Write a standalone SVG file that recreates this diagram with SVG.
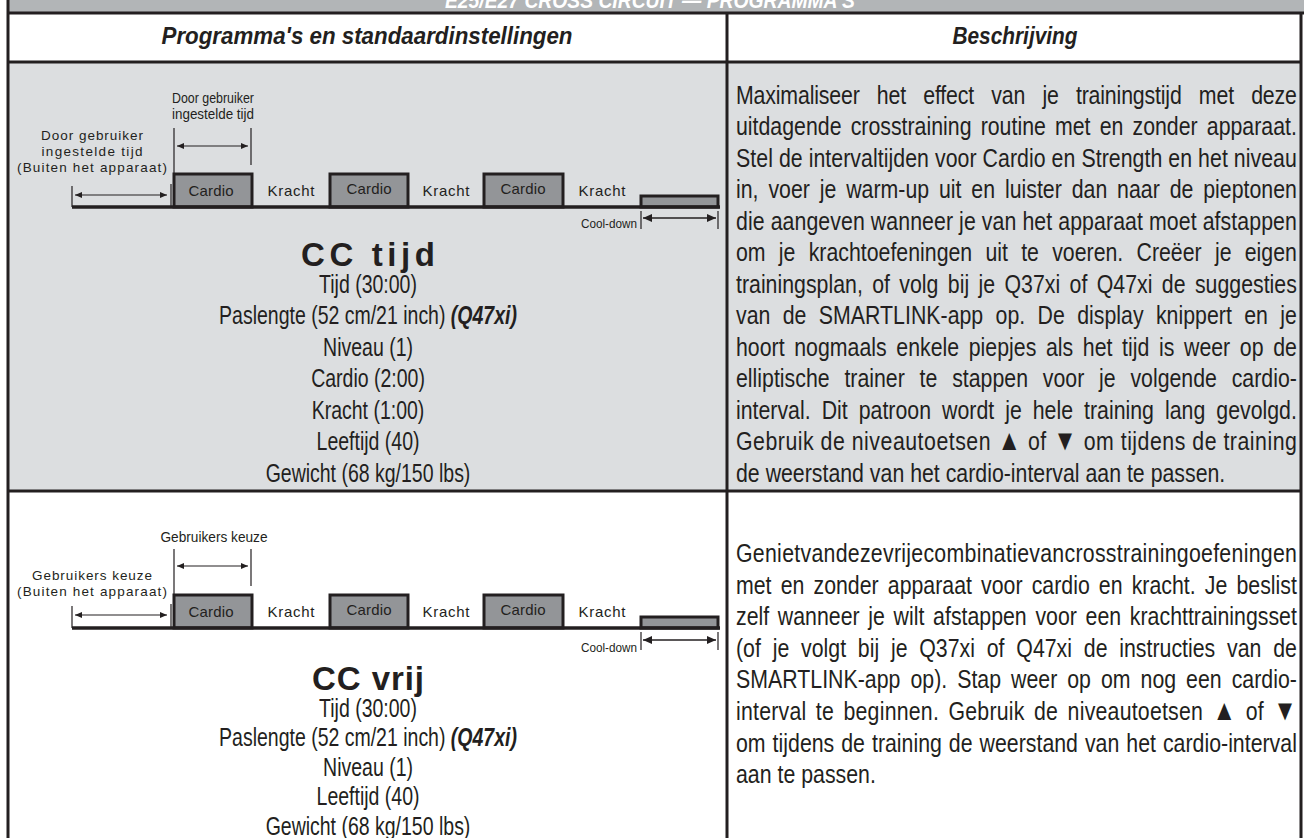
<svg xmlns="http://www.w3.org/2000/svg" width="1304" height="838" viewBox="0 0 1304 838">
<style>
.t{font-family:"Liberation Sans",Arial,sans-serif;fill:#231f20}
.desc{font-size:26px}
.tri{font-size:29px}
.left{font-size:25px;text-anchor:middle}
.lbl{font-size:14px}
.ls{font-size:13.5px}
.mid{text-anchor:middle}
.seg{font-size:15px;text-anchor:middle}
.hdr{font-size:24px;font-weight:bold;font-style:italic;text-anchor:middle}
.big{font-family:"Liberation Sans",Arial,sans-serif;font-weight:bold;font-size:33px;text-anchor:middle;fill:#231f20}
.bi{font-weight:bold;font-style:italic}
.box{fill:#939598;stroke:#231f20;stroke-width:3}
.rule{stroke:#231f20;stroke-width:3;fill:none}
.base{stroke:#231f20;stroke-width:3.5;fill:none}
.thin{stroke:#231f20;stroke-width:1.2;fill:none}
.arr{stroke:#231f20;stroke-width:1.2;marker-start:url(#ah);marker-end:url(#ah)}
.arr2{stroke:#231f20;stroke-width:1.4;marker-start:url(#ah2);marker-end:url(#ah2)}
</style>
<defs>
<marker id="ah" viewBox="0 0 7 6" refX="7" refY="3" markerWidth="7" markerHeight="6" markerUnits="userSpaceOnUse" orient="auto-start-reverse"><path d="M0,0L7,3L0,6z" fill="#231f20"/></marker>
<marker id="ah2" viewBox="0 0 9 8" refX="9" refY="4" markerWidth="9" markerHeight="8" markerUnits="userSpaceOnUse" orient="auto-start-reverse"><path d="M0,0L9,4L0,8z" fill="#231f20"/></marker>
</defs>
<rect width="1304" height="838" fill="#ffffff"/>
<g id="table">
<rect x="8" y="0" width="1296" height="13" fill="#b2b5b7"/>
<text x="650" y="8" font-family="Liberation Sans, Arial, sans-serif" font-size="22" font-weight="bold" font-style="italic" text-anchor="middle" fill="#ffffff" textLength="410" lengthAdjust="spacingAndGlyphs">E25/E27 CROSS CIRCUIT — PROGRAMMA'S</text>
<rect x="8" y="62" width="1293" height="429" fill="#dcdee0"/>
<line class="rule" x1="8" y1="13" x2="1304" y2="13"/>
<line class="rule" x1="8" y1="62" x2="1301" y2="62"/>
<line class="rule" x1="8" y1="491" x2="1301" y2="491"/>
<line class="rule" x1="8" y1="0" x2="8" y2="838"/>
<line class="rule" x1="727" y1="13" x2="727" y2="838"/>
<line class="rule" x1="1301" y1="13" x2="1301" y2="838"/>
<text class="t hdr" x="367" y="44" textLength="411" lengthAdjust="spacingAndGlyphs">Programma's en standaardinstellingen</text>
<text class="t hdr" x="1015" y="44" textLength="125" lengthAdjust="spacingAndGlyphs">Beschrijving</text>
</g>
<g id="cc-tijd-diagram">
<text class="t lbl mid" x="213" y="103" textLength="82" lengthAdjust="spacingAndGlyphs">Door gebruiker</text>
<text class="t lbl mid" x="213" y="119" textLength="82" lengthAdjust="spacingAndGlyphs">ingestelde tijd</text>
<text class="t ls mid" x="92" y="140" textLength="102" lengthAdjust="spacing">Door gebruiker</text>
<text class="t ls mid" x="92" y="156" textLength="101" lengthAdjust="spacing">ingestelde tijd</text>
<text class="t ls mid" x="92" y="172" textLength="150" lengthAdjust="spacing">(Buiten het apparaat)</text>
<rect class="box" x="174" y="174" width="78" height="33"/>
<rect class="box" x="330" y="174" width="78" height="33"/>
<rect class="box" x="484" y="174" width="79" height="33"/>
<rect class="box" x="641" y="196" width="77" height="11"/>
<line class="base" x1="72" y1="207" x2="720" y2="207"/>
<text class="t seg" x="211" y="196" textLength="45" lengthAdjust="spacing">Cardio</text>
<text class="t seg" x="369" y="194" textLength="45" lengthAdjust="spacing">Cardio</text>
<text class="t seg" x="523" y="194" textLength="45" lengthAdjust="spacing">Cardio</text>
<text class="t seg" x="291" y="196" textLength="47" lengthAdjust="spacing">Kracht</text>
<text class="t seg" x="446" y="196" textLength="47" lengthAdjust="spacing">Kracht</text>
<text class="t seg" x="602" y="196" textLength="47" lengthAdjust="spacing">Kracht</text>
<text class="t" x="637" y="228" font-size="13" text-anchor="end" textLength="56" lengthAdjust="spacingAndGlyphs">Cool-down</text>
</g>
<g id="cc-tijd-settings">
<text class="big" x="368" y="266" textLength="134" lengthAdjust="spacing">CC tijd</text>
<g transform="translate(368 0) scale(0.78 1)">
<text class="t left" x="0" y="293">Tijd (30:00)</text>
<text class="t left" x="0" y="324.5">Paslengte (52 cm/21 inch) <tspan class="bi">(Q47xi)</tspan></text>
<text class="t left" x="0" y="356">Niveau (1)</text>
<text class="t left" x="0" y="387.5">Cardio (2:00)</text>
<text class="t left" x="0" y="419">Kracht (1:00)</text>
<text class="t left" x="0" y="450.5">Leeftijd (40)</text>
<text class="t left" x="0" y="482">Gewicht (68 kg/150 lbs)</text>
</g>
</g>
<g id="cc-tijd-description" transform="translate(736 0) scale(0.82 1)">
<text class="t desc" x="0" y="104" word-spacing="14" textLength="684" lengthAdjust="spacing">Maximaliseer het effect van je trainingstijd met deze</text>
<text class="t desc" x="0" y="135.5" word-spacing="3.9" textLength="684" lengthAdjust="spacing">uitdagende crosstraining routine met en zonder apparaat.</text>
<text class="t desc" x="0" y="167" textLength="684" lengthAdjust="spacing">Stel de intervaltijden voor Cardio en Strength en het niveau</text>
<text class="t desc" x="0" y="198.5" word-spacing="4.8" textLength="684" lengthAdjust="spacing">in, voer je warm-up uit en luister dan naar de pieptonen</text>
<text class="t desc" x="0" y="230" textLength="684" lengthAdjust="spacing">die aangeven wanneer je van het apparaat moet afstappen</text>
<text class="t desc" x="0" y="261.5" word-spacing="8.9" textLength="684" lengthAdjust="spacing">om je krachtoefeningen uit te voeren. Creëer je eigen</text>
<text class="t desc" x="0" y="293" word-spacing="4.2" textLength="684" lengthAdjust="spacing">trainingsplan, of volg bij je Q37xi of Q47xi de suggesties</text>
<text class="t desc" x="0" y="324.5" word-spacing="7.8" textLength="684" lengthAdjust="spacing">van de SMARTLINK-app op. De display knippert en je</text>
<text class="t desc" x="0" y="356" word-spacing="4.5" textLength="684" lengthAdjust="spacing">hoort nogmaals enkele piepjes als het tijd is weer op de</text>
<text class="t desc" x="0" y="387.5" word-spacing="10.8" textLength="684" lengthAdjust="spacing">elliptische trainer te stappen voor je volgende cardio-</text>
<text class="t desc" x="0" y="419" word-spacing="6.2" textLength="684" lengthAdjust="spacing">interval. Dit patroon wordt je hele training lang gevolgd.</text>
<text class="t desc" x="0" y="450.5" textLength="684" lengthAdjust="spacing">Gebruik de niveautoetsen <tspan class="tri">▲</tspan> of <tspan class="tri">▼</tspan> om tijdens de training</text>
<text class="t desc" x="0" y="482">de weerstand van het cardio-interval aan te passen.</text>
</g>
<g id="cc-vrij-diagram">
<text class="t lbl mid" x="214" y="542" textLength="107" lengthAdjust="spacingAndGlyphs">Gebruikers keuze</text>
<text class="t ls mid" x="92" y="580" textLength="120" lengthAdjust="spacing">Gebruikers keuze</text>
<text class="t ls mid" x="92" y="596" textLength="150" lengthAdjust="spacing">(Buiten het apparaat)</text>
<rect class="box" x="174" y="595" width="78" height="33"/>
<rect class="box" x="330" y="595" width="78" height="33"/>
<rect class="box" x="484" y="595" width="79" height="33"/>
<rect class="box" x="641" y="617" width="77" height="11"/>
<line class="base" x1="72" y1="628" x2="720" y2="628"/>
<text class="t seg" x="211" y="617" textLength="45" lengthAdjust="spacing">Cardio</text>
<text class="t seg" x="369" y="615" textLength="45" lengthAdjust="spacing">Cardio</text>
<text class="t seg" x="523" y="615" textLength="45" lengthAdjust="spacing">Cardio</text>
<text class="t seg" x="291" y="617" textLength="47" lengthAdjust="spacing">Kracht</text>
<text class="t seg" x="446" y="617" textLength="47" lengthAdjust="spacing">Kracht</text>
<text class="t seg" x="602" y="617" textLength="47" lengthAdjust="spacing">Kracht</text>
<text class="t" x="637" y="652" font-size="13" text-anchor="end" textLength="56" lengthAdjust="spacingAndGlyphs">Cool-down</text>
</g>
<g id="cc-vrij-settings">
<text class="big" x="368" y="690" textLength="112" lengthAdjust="spacing">CC vrij</text>
<g transform="translate(368 0) scale(0.78 1)">
<text class="t left" x="0" y="717">Tijd (30:00)</text>
<text class="t left" x="0" y="746.5">Paslengte (52 cm/21 inch) <tspan class="bi">(Q47xi)</tspan></text>
<text class="t left" x="0" y="776">Niveau (1)</text>
<text class="t left" x="0" y="805.5">Leeftijd (40)</text>
<text class="t left" x="0" y="835">Gewicht (68 kg/150 lbs)</text>
</g>
</g>
<g id="cc-vrij-description" transform="translate(736 0) scale(0.82 1)">
<text class="t desc" x="0" y="562" textLength="684" lengthAdjust="spacing">Genietvandezevrijecombinatievancrosstrainingoefeningen</text>
<text class="t desc" x="0" y="593.6" word-spacing="3.9" textLength="684" lengthAdjust="spacing">met en zonder apparaat voor cardio en kracht. Je beslist</text>
<text class="t desc" x="0" y="625.2" word-spacing="3.4" textLength="684" lengthAdjust="spacing">zelf wanneer je wilt afstappen voor een krachttrainingsset</text>
<text class="t desc" x="0" y="656.8" word-spacing="7.1" textLength="684" lengthAdjust="spacing">(of je volgt bij je Q37xi of Q47xi de instructies van de</text>
<text class="t desc" x="0" y="688.4" word-spacing="4.9" textLength="684" lengthAdjust="spacing">SMARTLINK-app op). Stap weer op om nog een cardio-</text>
<text class="t desc" x="0" y="720" word-spacing="4" textLength="684" lengthAdjust="spacing">interval te beginnen. Gebruik de niveautoetsen <tspan class="tri">▲</tspan> of <tspan class="tri">▼</tspan></text>
<text class="t desc" x="0" y="751.6" word-spacing="1.3" textLength="684" lengthAdjust="spacing">om tijdens de training de weerstand van het cardio-interval</text>
<text class="t desc" x="0" y="783.2">aan te passen.</text>
</g>
<g id="connectors">
<line class="thin" x1="174" y1="128" x2="174" y2="174"/>
<line class="thin" x1="251" y1="128" x2="251" y2="165"/>
<line class="arr" x1="177" y1="146" x2="248" y2="146"/>
<line class="thin" x1="72" y1="186" x2="72" y2="207"/>
<line class="thin" x1="171" y1="184" x2="171" y2="207"/>
<line class="arr" x1="75" y1="195" x2="167" y2="195"/>
<line class="thin" x1="641" y1="211" x2="641" y2="229"/>
<line class="thin" x1="718" y1="211" x2="718" y2="229"/>
<line class="arr2" x1="643" y1="218" x2="716" y2="218"/>
<line class="thin" x1="174" y1="549" x2="174" y2="595"/>
<line class="thin" x1="251" y1="549" x2="251" y2="586"/>
<line class="arr" x1="177" y1="566" x2="248" y2="566"/>
<line class="thin" x1="72" y1="606" x2="72" y2="628"/>
<line class="thin" x1="171" y1="604" x2="171" y2="628"/>
<line class="arr" x1="75" y1="615" x2="167" y2="615"/>
<line class="thin" x1="641" y1="632" x2="641" y2="650"/>
<line class="thin" x1="718" y1="632" x2="718" y2="650"/>
<line class="arr2" x1="643" y1="640" x2="716" y2="640"/>
</g>
</svg>
